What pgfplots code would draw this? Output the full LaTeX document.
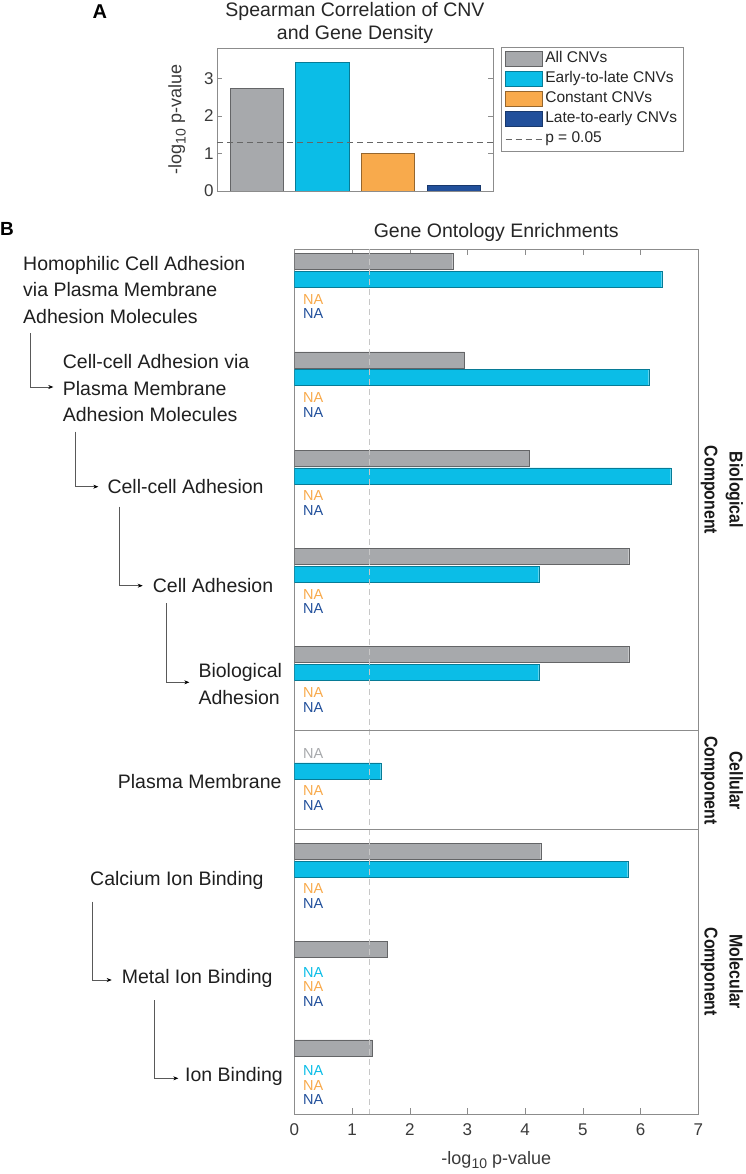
\documentclass[border=0pt]{standalone}
\usepackage{fontspec}
\setmainfont{Liberation Sans}
\newfontfamily\narrowfont[FakeStretch=0.86]{Liberation Sans}
\usepackage{pgfplots}
\pgfplotsset{compat=1.18}
\usetikzlibrary{arrows.meta}
\definecolor{cgray}{HTML}{A7A9AC}
\definecolor{ccyan}{HTML}{0BBDE7}
\definecolor{corange}{HTML}{F8AA4C}
\definecolor{cnavy}{HTML}{22509B}
\definecolor{axgray}{HTML}{8C8C8C}
\definecolor{txtgray}{HTML}{3A3A3A}
\newcommand{\fs}[2]{\fontsize{#1}{#2}\selectfont}
\pgfplotsset{
  barleg/.style={legend image code/.code={\draw[##1] (0pt,-7.5pt) rectangle (37pt,7.5pt);}},
  linleg/.style={legend image code/.code={\draw[##1] (0pt,0pt) -- (37pt,0pt);}},
}
\tikzset{nalab/.style={anchor=west, inner sep=0pt, font=\fs{14.5}{14.5}}}
\begin{document}
\begin{tikzpicture}[x=1pt,y=1pt]
\useasboundingbox (0pt,0pt) rectangle (746pt,-1174pt);
% ---------------- Panel A ----------------
\begin{axis}[
  at={(217pt,-191pt)}, anchor=south west,
  width=276pt, height=143pt, scale only axis,
  xmin=0.4, xmax=4.6, ymin=0, ymax=3.81,
  xtick=\empty, ytick={0,1,2,3}, ytick pos=both,
  tick align=inside, major tick length=5pt,
  axis line style={axgray}, major tick style={axgray},
  tick label style={font=\fs{17}{17}, text=txtgray},
  /pgf/number format/assume math mode=true,
  ylabel={-log\raisebox{-0.45ex}{\fs{14}{14}10} p-value},
  every axis y label/.style={at={(rel axis cs:-0.145,0.5)}, rotate=90, anchor=center, font=\fs{18}{18}, text=txtgray},
  title={Spearman Correlation of CNV\\and Gene Density},
  title style={at={(rel axis cs:0.5,1)}, anchor=south, align=center, inner sep=0pt, yshift=-1.5pt, font=\fs{19.5}{23}, text=black!85},
  ybar, bar width=0.81,
  legend cell align=left,
  legend style={at={(rel axis cs:1.029,1.007)}, anchor=north west, draw=axgray,
    font=\fs{15.5}{15.5}, text=black!85, inner xsep=4pt, inner ysep=2pt,
    nodes={inner xsep=2.5pt, inner ysep=2.75pt, text height=11pt, text depth=3.5pt},
    /tikz/every even column/.append style={column sep=0pt}},
]
\addplot[fill=cgray, draw=cgray!60!black, bar shift=0pt, barleg] coordinates {(1,2.73)};
\addlegendentry{All CNVs}
\addplot[fill=ccyan, draw=ccyan!65!black, bar shift=0pt, barleg] coordinates {(2,3.42)};
\addlegendentry{Early-to-late CNVs}
\addplot[fill=corange, draw=corange!60!black, bar shift=0pt, barleg] coordinates {(3,1.00)};
\addlegendentry{Constant CNVs}
\addplot[fill=cnavy, draw=cnavy!70!black, bar shift=0pt, barleg] coordinates {(4,0.15)};
\addlegendentry{Late-to-early CNVs}
\addplot[sharp plot, black!60, dash pattern=on 6pt off 4pt, line width=0.6pt, linleg] coordinates {(0.4,1.301) (4.6,1.301)};
\addlegendentry{p = 0.05}
\end{axis}
% ---------------- Panel B ----------------
\begin{axis}[
  at={(294.3pt,-249pt)}, anchor=north west,
  width=404pt, height=865pt, scale only axis,
  xmin=0, xmax=7, ymin=0.6, ymax=9.4, y dir=reverse,
  ytick=\empty, xtick={0,1,2,3,4,5,6,7}, xtick pos=both,
  tick align=inside, major tick length=6pt,
  axis line style={axgray}, major tick style={axgray},
  tick label style={font=\fs{17}{17}, text=txtgray},
  xticklabel style={yshift=-6pt},
  /pgf/number format/assume math mode=true,
  xlabel={-log\raisebox{-0.45ex}{\fs{14}{14}10} p-value},
  every axis x label/.style={at={(rel axis cs:0.5,0)}, anchor=base, yshift=-50pt, font=\fs{18}{18}, text=txtgray},
  title={Gene Ontology Enrichments},
  title style={at={(rel axis cs:0.5,1)}, anchor=south, inner sep=0pt, yshift=1.5pt, font=\fs{19.5}{23}, text=black!85},
  xbar, bar width=0.163,
]
\addplot[fill=cgray, draw=cgray!60!black, bar shift=0pt] coordinates {
 (2.745,0.727) (2.946,1.727) (4.072,2.727) (5.794,3.727) (5.794,4.727)
 (4.270,6.727) (1.618,7.727) (1.358,8.727)};
\addplot[fill=ccyan, draw=ccyan!65!black, bar shift=0pt] coordinates {
 (6.366,0.909) (6.141,1.909) (6.522,2.909) (4.235,3.909) (4.235,4.909)
 (1.497,5.909) (5.777,6.909)};
\addplot[sharp plot, black!22, dash pattern=on 6pt off 4pt, line width=0.6pt] coordinates {(1.301,0.6) (1.301,9.4)};
\addplot[sharp plot, axgray, line width=0.5pt] coordinates {(0,5.5) (7,5.5)};
\addplot[sharp plot, axgray, line width=0.5pt] coordinates {(0,6.5) (7,6.5)};
% NA labels
\node[nalab, text=corange] at (axis cs:0.15,1.11) {NA};
\node[nalab, text=cnavy]   at (axis cs:0.15,1.26) {NA};
\node[nalab, text=corange] at (axis cs:0.15,2.11) {NA};
\node[nalab, text=cnavy]   at (axis cs:0.15,2.26) {NA};
\node[nalab, text=corange] at (axis cs:0.15,3.11) {NA};
\node[nalab, text=cnavy]   at (axis cs:0.15,3.26) {NA};
\node[nalab, text=corange] at (axis cs:0.15,4.11) {NA};
\node[nalab, text=cnavy]   at (axis cs:0.15,4.26) {NA};
\node[nalab, text=corange] at (axis cs:0.15,5.11) {NA};
\node[nalab, text=cnavy]   at (axis cs:0.15,5.26) {NA};
\node[nalab, text=cgray]   at (axis cs:0.15,5.735) {NA};
\node[nalab, text=corange] at (axis cs:0.15,6.11) {NA};
\node[nalab, text=cnavy]   at (axis cs:0.15,6.26) {NA};
\node[nalab, text=corange] at (axis cs:0.15,7.11) {NA};
\node[nalab, text=cnavy]   at (axis cs:0.15,7.26) {NA};
\node[nalab, text=ccyan]   at (axis cs:0.15,7.96) {NA};
\node[nalab, text=corange] at (axis cs:0.15,8.105) {NA};
\node[nalab, text=cnavy]   at (axis cs:0.15,8.255) {NA};
\node[nalab, text=ccyan]   at (axis cs:0.15,8.96) {NA};
\node[nalab, text=corange] at (axis cs:0.15,9.105) {NA};
\node[nalab, text=cnavy]   at (axis cs:0.15,9.255) {NA};
\end{axis}
% ---------------- Left labels ----------------
\begin{scope}[every node/.style={inner sep=0pt, font=\fs{19.5}{26.7}, text=black!88, align=left}]
\node[anchor=west] at (23,-290) {Homophilic Cell Adhesion\\via Plasma Membrane\\Adhesion Molecules};
\node[anchor=west] at (62.7,-388.3) {Cell-cell Adhesion via\\Plasma Membrane\\Adhesion Molecules};
\node[anchor=west] at (107.3,-486.7) {Cell-cell Adhesion};
\node[anchor=west] at (152.7,-585.7) {Cell Adhesion};
\node[anchor=west] at (198.3,-683.7) {Biological\\Adhesion};
\node[anchor=east] at (281.7,-781.7) {Plasma Membrane};
\node[anchor=west] at (90,-880) {Calcium Ion Binding};
\node[anchor=west] at (121.7,-978.3) {Metal Ion Binding};
\node[anchor=west] at (185,-1076.7) {Ion Binding};
\end{scope}
\begin{scope}[black!65, line width=0.6pt, -{Stealth[length=5pt,width=4pt,black]}]
\draw (30.7,-333) -- (30.7,-387) -- (53.3,-387);
\draw (75.7,-431.7) -- (75.7,-486.7) -- (98.3,-486.7);
\draw (119.3,-506.7) -- (119.3,-585.7) -- (142.7,-585.7);
\draw (166.7,-603.3) -- (166.7,-682.3) -- (189.3,-682.3);
\draw (92.3,-901.7) -- (92.3,-980) -- (111.7,-980);
\draw (154.3,-1000) -- (154.3,-1078.3) -- (178.3,-1078.3);
\end{scope}
% ---------------- Right labels ----------------
\begin{scope}[every node/.style={inner sep=0pt, rotate=-90, align=center, font=\narrowfont\bfseries\fs{18.5}{25}, text=black!90}]
\node at (722,-490) {Biological\\Component};
\node at (722,-780.5) {Cellular\\Component};
\node at (722,-971.7) {Molecular\\Component};
\end{scope}
% ---------------- Panel letters ----------------
\node[anchor=west, inner sep=0pt, font=\bfseries\fs{19}{19}] at (0,-229) {B};
\node[anchor=west, inner sep=0pt, font=\bfseries\fs{20}{20}] at (92.5,-12) {A};
\end{tikzpicture}
\end{document}
